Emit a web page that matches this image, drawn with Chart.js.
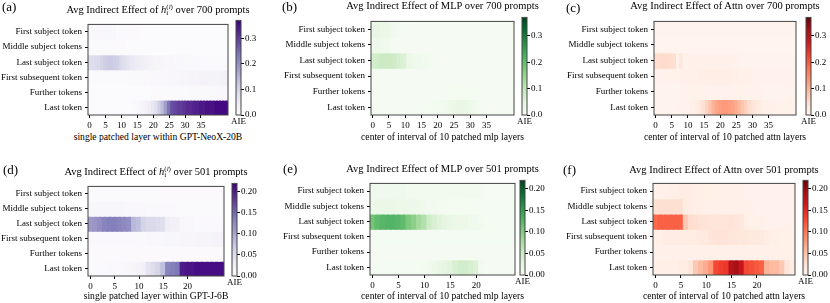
<!DOCTYPE html>
<html>
<head>
<meta charset="utf-8">
<script src="https://cdn.jsdelivr.net/npm/chart.js@4"></script>
<style>
  body { margin: 0; background: #fff; }
  #fig { position: relative; width: 830px; height: 303px; overflow: hidden; font-family: 'Liberation Serif', 'DejaVu Serif', serif; color: #000; }
  #fig canvas { position: absolute; }
  .title { position: absolute; width: 320px; text-align: center; font-size: 10.5px; line-height: 14px; white-space: nowrap; }
  .xtitle { position: absolute; width: 320px; text-align: center; font-size: 9.6px; line-height: 12px; white-space: nowrap; }
  .tag { position: absolute; font-size: 13px; line-height: 16px; }
  .aie { position: absolute; width: 30px; text-align: center; font-size: 9px; line-height: 10px; }
  .ss { display: inline-block; vertical-align: -2px; font-size: 7px; line-height: 6.5px; text-align: left; }
  .ss span { display: block; }
</style>
</head>
<body>
<div id="fig"></div>
<script>
// Données
const rowLabels = ['First subject token', 'Middle subject tokens', 'Last subject token', 'First subsequent token', 'Further tokens', 'Last token'];
const neoxTicks = [0, 5, 10, 15, 20, 25, 30, 35];
const gptjTicks = [0, 5, 10, 15, 20];
const neoxBarTicks = [0, 0.1, 0.2, 0.3];
const gptjBarTicks = [0, 0.05, 0.1, 0.15, 0.2];
const neoxMax = 0.37;
const gptjMax = 0.22;

// (a) GPT-NeoX-20B, estado oculto, 44 camadas
const neoxState = [
  [.016,.014,.012,.012,.012,.014,.014,.013,.012,.008, .007,.006,.006,.005,.005,.005,.004,.004,.004,.004, .004,.004,.004,.004,.004,.004,.003,.003,.003,.003, .003,.003,.003,.003,.003,.003,.003,.003,.003,.003, .003,.003,.003,.003],
  [.008,.008,.007,.007,.007,.007,.006,.006,.006,.005, .005,.005,.004,.004,.004,.004,.004,.004,.003,.003, .003,.003,.003,.003,.003,.003,.003,.003,.003,.003, .003,.003,.003,.003,.003,.003,.003,.003,.003,.003, .003,.003,.003,.003],
  [.085,.085,.088,.09,.10,.11,.115,.115,.11,.105, .09,.08,.07,.062,.055,.05,.045,.04,.035,.03, .027,.024,.022,.02,.018,.016,.015,.014,.013,.012, .011,.01,.01,.009,.009,.008,.008,.008,.008,.008, .008,.008,.008,.008],
  [.006,.006,.006,.006,.006,.007,.007,.007,.007,.007, .008,.008,.008,.009,.009,.01,.01,.01,.011,.011, .012,.012,.013,.013,.014,.015,.016,.017,.018,.019, .02,.021,.022,.023,.024,.025,.026,.027,.027,.028, .028,.028,.029,.029],
  [.004,.004,.004,.004,.004,.004,.004,.004,.004,.004, .004,.004,.004,.004,.004,.004,.004,.004,.004,.004, .005,.005,.005,.006,.006,.006,.007,.007,.007,.008, .008,.008,.009,.009,.01,.01,.01,.011,.011,.011, .012,.012,.012,.012],
  [.002,.002,.002,.002,.002,.002,.002,.002,.002,.002, .002,.003,.003,.004,.006,.009,.014,.022,.032,.045, .06,.08,.11,.14,.18,.24,.28,.29,.30,.30, .31,.32,.32,.33,.33,.34,.34,.35,.35,.35, .36,.36,.36,.36]
];

// (b) GPT-NeoX-20B, MLP
const neoxMlp = [
  [.03,.032,.032,.03,.03,.028,.018,.014,.012,.008, .007,.007,.006,.006,.006,.006,.006,.006,.005,.005, .005,.005,.005,.005,.005,.005,.005,.005,.005,.005, .005,.005,.005,.005,.005,.005,.005,.005,.005,.005, .005,.005,.005,.005],
  [.02,.022,.022,.02,.02,.018,.01,.008,.007,.006, .005,.005,.005,.005,.005,.005,.005,.005,.005,.005, .004,.004,.004,.004,.004,.004,.004,.004,.004,.004, .004,.004,.004,.004,.004,.004,.004,.004,.004,.004, .004,.004,.004,.004],
  [.07,.075,.08,.085,.085,.085,.085,.08,.07,.065, .06,.03,.025,.02,.02,.018,.016,.012,.01,.008, .007,.006,.006,.006,.006,.005,.005,.005,.005,.005, .005,.005,.005,.005,.005,.005,.005,.005,.005,.005, .005,.005,.005,.005],
  [.004,.004,.004,.004,.004,.004,.004,.004,.004,.004, .004,.004,.004,.004,.004,.004,.004,.004,.004,.004, .004,.004,.004,.004,.004,.004,.004,.004,.004,.004, .004,.004,.004,.004,.004,.004,.004,.004,.004,.004, .004,.004,.004,.004],
  [.006,.006,.006,.006,.006,.006,.006,.006,.006,.006, .006,.006,.006,.006,.006,.006,.006,.006,.006,.006, .006,.006,.006,.008,.008,.008,.008,.008,.008,.008, .008,.008,.008,.006,.006,.006,.006,.006,.006,.006, .006,.006,.006,.006],
  [.006,.006,.006,.006,.006,.006,.006,.006,.006,.006, .006,.006,.006,.006,.006,.007,.007,.008,.008,.009, .01,.012,.014,.02,.025,.028,.03,.032,.032,.03, .028,.022,.015,.01,.008,.007,.006,.006,.006,.006, .006,.006,.006,.006]
];

// (c) GPT-NeoX-20B, Attn
const neoxAttn = [
  [.004,.004,.004,.004,.004,.004,.004,.004,.004,.004, .004,.004,.004,.004,.004,.004,.004,.004,.004,.004, .004,.004,.004,.004,.004,.004,.004,.004,.004,.004, .004,.004,.004,.004,.004,.004,.004,.004,.004,.004, .004,.004,.004,.004],
  [.003,.003,.003,.003,.003,.003,.003,.003,.003,.003, .003,.003,.003,.003,.003,.003,.003,.003,.003,.003, .003,.003,.003,.003,.003,.003,.003,.003,.003,.003, .003,.003,.003,.003,.003,.003,.003,.003,.003,.003, .003,.003,.003,.003],
  [.05,.05,.052,.052,.05,.05,.048,.01,.03,.008, .008,.008,.009,.009,.01,.01,.01,.01,.01,.01, .01,.01,.01,.01,.01,.008,.006,.005,.005,.005, .004,.004,.004,.004,.004,.004,.004,.004,.004,.004, .004,.004,.004,.004],
  [.006,.006,.006,.006,.007,.007,.008,.008,.009,.009, .01,.01,.011,.012,.013,.014,.015,.015,.016,.016, .016,.016,.015,.015,.014,.013,.012,.011,.01,.009, .008,.008,.008,.008,.008,.008,.008,.008,.008,.008, .008,.008,.008,.008],
  [.005,.005,.005,.005,.005,.005,.005,.005,.006,.006, .006,.006,.007,.007,.007,.008,.008,.008,.008,.008, .008,.008,.008,.008,.008,.007,.007,.007,.006,.006, .006,.006,.006,.006,.005,.005,.005,.005,.005,.005, .005,.005,.005,.005],
  [.005,.005,.005,.005,.005,.005,.005,.006,.006,.007, .008,.01,.012,.018,.03,.045,.06,.08,.10,.115, .125,.13,.13,.125,.12,.11,.095,.08,.065,.05, .04,.03,.022,.016,.012,.01,.009,.008,.008,.007, .007,.007,.007,.007]
];

// (d) GPT-J-6B, estado oculto, 28 camadas
const gptjState = [
  [.004,.004,.004,.004,.004,.004,.004,.004,.004,.004, .004,.004,.004,.004,.004,.003,.003,.003,.003,.003, .003,.003,.003,.003,.003,.003,.003,.003],
  [.008,.009,.01,.01,.01,.01,.01,.009,.008,.008, .007,.007,.006,.006,.006,.005,.005,.005,.004,.004, .004,.004,.004,.004,.004,.004,.004,.004],
  [.11,.115,.12,.13,.135,.135,.13,.125,.12,.085, .08,.06,.055,.055,.05,.048,.026,.022,.02,.01, .008,.007,.006,.006,.005,.005,.005,.005],
  [.005,.005,.005,.005,.005,.005,.005,.005,.005,.005, .006,.006,.007,.007,.008,.008,.009,.01,.01,.011, .012,.012,.013,.013,.014,.014,.015,.015],
  [.003,.003,.003,.003,.003,.003,.003,.003,.003,.003, .003,.003,.003,.003,.003,.003,.003,.003,.003,.003, .003,.003,.003,.003,.003,.003,.003,.003],
  [.004,.004,.004,.004,.005,.005,.006,.007,.01,.012, .015,.02,.04,.05,.06,.08,.13,.135,.14,.2, .205,.205,.21,.21,.21,.21,.21,.21]
];

// (e) GPT-J-6B, MLP
const gptjMlp = [
  [.01,.01,.01,.012,.012,.012,.01,.008,.008,.008, .007,.007,.007,.007,.008,.008,.008,.007,.007,.007, .007,.006,.002,.002,.002,.002,.002,.002],
  [.016,.018,.018,.018,.018,.017,.016,.015,.014,.013, .01,.008,.007,.006,.006,.005,.005,.005,.005,.005, .004,.004,.004,.004,.004,.004,.004,.004],
  [.11,.12,.125,.128,.128,.125,.12,.105,.095,.08, .07,.048,.038,.032,.026,.02,.018,.016,.014,.012, .01,.008,.005,.004,.004,.004,.004,.004],
  [.004,.004,.004,.004,.004,.004,.004,.004,.004,.004, .004,.004,.004,.004,.004,.004,.004,.004,.004,.004, .004,.004,.004,.004,.004,.004,.004,.004],
  [.003,.003,.003,.003,.003,.003,.003,.003,.003,.003, .003,.003,.003,.003,.003,.003,.003,.003,.003,.003, .003,.003,.003,.003,.003,.003,.003,.003],
  [.004,.004,.004,.004,.004,.004,.004,.004,.005,.005, .006,.008,.015,.02,.025,.03,.04,.045,.045,.042, .035,.008,.004,.003,.003,.003,.003,.003]
];

// (f) GPT-J-6B, Attn
const gptjAttn = [
  [.006,.006,.006,.008,.008,.01,.01,.01,.008,.008, .007,.007,.006,.006,.006,.006,.006,.006,.005,.005, .005,.005,.005,.004,.004,.004,.004,.004],
  [.025,.027,.027,.027,.027,.027,.012,.01,.008,.008, .006,.006,.006,.006,.006,.006,.006,.006,.006,.006, .005,.005,.005,.005,.005,.005,.005,.005],
  [.11,.115,.115,.115,.115,.115,.045,.03,.028,.025, .022,.02,.02,.02,.02,.022,.02,.018,.008,.007, .006,.006,.005,.005,.005,.005,.005,.005],
  [.008,.008,.01,.01,.01,.01,.012,.012,.012,.014, .015,.02,.022,.022,.022,.02,.02,.018,.018,.016, .016,.014,.01,.008,.008,.006,.006,.006],
  [.006,.006,.006,.006,.006,.006,.006,.006,.006,.006, .006,.006,.006,.006,.006,.006,.006,.006,.006,.006, .006,.006,.006,.006,.006,.006,.006,.006],
  [.008,.008,.008,.008,.008,.01,.012,.02,.045,.055, .065,.08,.13,.135,.14,.18,.19,.17,.13,.125, .12,.115,.06,.055,.055,.045,.02,.012]
];

// Mapas de cores (matplotlib Purples / Greens / Reds)
const purples = ['#fcfbfd', '#efedf5', '#dadaeb', '#bcbddc', '#9e9ac8', '#807dba', '#6a51a3', '#54278f', '#3f007d'];
const greens = ['#f7fcf5', '#e5f5e0', '#c7e9c0', '#a1d99b', '#74c476', '#41ab5d', '#238b45', '#006d2c', '#00441b'];
const reds = ['#fff5f0', '#fee0d2', '#fcbba1', '#fc9272', '#fb6a4a', '#ef3b2c', '#cb181d', '#a50f15', '#67000d'];

function hexToRgb(h) {
  return [1, 3, 5].map(i => parseInt(h.slice(i, i + 2), 16));
}

function cmapColor(stops, t) {
  t = Math.max(0, Math.min(1, t));
  const pos = t * (stops.length - 1);
  const i = Math.min(Math.floor(pos), stops.length - 2);
  const f = pos - i;
  const a = hexToRgb(stops[i]);
  const b = hexToRgb(stops[i + 1]);
  const c = a.map((v, k) => Math.round(v + (b[k] - v) * f));
  return `rgb(${c[0]},${c[1]},${c[2]})`;
}

Chart.defaults.font.family = "'Liberation Serif', 'DejaVu Serif', serif";
Chart.defaults.font.size = 9;
Chart.defaults.color = '#000';
Chart.defaults.animation = false;
Chart.defaults.responsive = false;
Chart.defaults.events = [];
Chart.defaults.plugins.legend.display = false;
Chart.defaults.plugins.tooltip.enabled = false;

// Moldura em volta da área do gráfico
const frame = {
  id: 'frame',
  afterDraw(chart) {
    const { ctx, chartArea: a } = chart;
    ctx.save();
    ctx.strokeStyle = '#444';
    ctx.lineWidth = 1;
    ctx.strokeRect(a.left, a.top, a.right - a.left, a.bottom - a.top);
    ctx.restore();
  }
};

const fig = document.getElementById('fig');

function addCanvas(left, top, w, h) {
  const c = document.createElement('canvas');
  c.width = w;
  c.height = h;
  c.style.left = left + 'px';
  c.style.top = top + 'px';
  c.style.width = w + 'px';
  c.style.height = h + 'px';
  fig.appendChild(c);
  return c;
}

function addText(cls, html, left, top, width) {
  const d = document.createElement('div');
  d.className = cls;
  d.innerHTML = html;
  d.style.left = left + 'px';
  d.style.top = top + 'px';
  if (width) d.style.width = width + 'px';
  fig.appendChild(d);
}

// Mapa de calor: barras empilhadas, uma por célula
function heatmap(p) {
  const YW = 92, XH = 16;
  const c = addCanvas(p.L - YW, p.T - 2, YW + p.R - p.L + 3, p.B - p.T + 2 + XH);
  const n = p.rows[0].length;
  new Chart(c, {
    type: 'bar',
    data: {
      datasets: p.rows.map(row => ({
        data: row.map((v, i) => ({ x: i, y: 1, v })),
        backgroundColor: ctx => ctx.raw ? cmapColor(p.cmap, ctx.raw.v / p.vmax) : p.cmap[0],
        barPercentage: 1,
        categoryPercentage: 1,
        borderWidth: 0,
        inflateAmount: 0.6
      }))
    },
    options: {
      layout: { padding: { top: 2, right: 3, left: 0, bottom: 0 } },
      scales: {
        x: {
          type: 'linear',
          stacked: true,
          min: -0.5,
          max: n - 0.5,
          offset: false,
          afterBuildTicks: s => { s.ticks = p.xTicks.map(v => ({ value: v })); },
          ticks: { callback: v => String(v), padding: 2, maxRotation: 0, autoSkip: false },
          grid: { offset: false, drawOnChartArea: false, tickLength: 3, tickColor: '#000' },
          border: { display: false },
          afterFit: s => { s.height = XH; }
        },
        y: {
          type: 'linear',
          stacked: true,
          reverse: true,
          min: 0,
          max: 6,
          afterBuildTicks: s => { s.ticks = [0.5, 1.5, 2.5, 3.5, 4.5, 5.5].map(v => ({ value: v })); },
          ticks: { callback: (v, i) => rowLabels[i], padding: 3, autoSkip: false },
          grid: { offset: false, drawOnChartArea: false, tickLength: 3, tickColor: '#000' },
          border: { display: false },
          afterFit: s => { s.width = YW; }
        }
      }
    },
    plugins: [frame]
  });
  addText('xtitle', p.xTitle, (p.L + p.R) / 2 - 160, p.xTitleY - 6, 320);
}

// Barra de cores com gradiente
function colorbar(p) {
  const W = 5, RW = 30, BH = 8;
  const c = addCanvas(p.x - 2, p.top - 2, W + 2 + RW, p.bottom - p.top + 2 + BH);
  new Chart(c, {
    type: 'bar',
    data: {
      labels: [''],
      datasets: [{
        data: [[0, p.vmax]],
        backgroundColor: ctx => {
          const a = ctx.chart.chartArea;
          if (!a) return p.cmap[0];
          const g = ctx.chart.ctx.createLinearGradient(0, a.bottom, 0, a.top);
          p.cmap.forEach((s, i) => g.addColorStop(i / (p.cmap.length - 1), s));
          return g;
        },
        barPercentage: 1,
        categoryPercentage: 1,
        borderWidth: 0,
        inflateAmount: 0
      }]
    },
    options: {
      layout: { padding: { top: 2, left: 2, right: 0, bottom: 0 } },
      scales: {
        x: {
          ticks: { display: false },
          grid: { display: false },
          border: { display: false },
          afterFit: s => { s.height = BH; }
        },
        y: {
          position: 'right',
          min: 0,
          max: p.vmax,
          afterBuildTicks: s => { s.ticks = p.ticks.map(v => ({ value: v })); },
          ticks: { callback: v => v.toFixed(p.digits), padding: 1, autoSkip: false },
          grid: { drawOnChartArea: false, tickLength: 3, tickColor: '#000' },
          border: { display: false },
          afterFit: s => { s.width = RW; }
        }
      }
    },
    plugins: [frame]
  });
  addText('aie', 'AIE', p.x + W / 2 - 15, p.aieY - 5, 30);
}

const hState = '<i>h</i><span class="ss"><span>(<i>l</i>)</span><span>i</span></span>';

const panels = [
  { tag: '(a)', tagX: 2, tagY: 7, title: `Avg Indirect Effect of ${hState} over 700 prompts`, titleY: 10,
    rows: neoxState, cmap: purples, vmax: neoxMax, xTicks: neoxTicks, xTitle: 'single patched layer within GPT-NeoX-20B',
    L: 88, T: 18, R: 228, B: 115, xTitleY: 137,
    cb: { x: 236, top: 16, bottom: 115, aieY: 121, ticks: neoxBarTicks, digits: 1 } },
  { tag: '(b)', tagX: 282, tagY: 7, title: 'Avg Indirect Effect of MLP over 700 prompts', titleY: 6,
    rows: neoxMlp, cmap: greens, vmax: neoxMax, xTicks: neoxTicks, xTitle: 'center of interval of 10 patched mlp layers',
    L: 371, T: 15, R: 514, B: 115, xTitleY: 137,
    cb: { x: 522, top: 13, bottom: 115, aieY: 121, ticks: neoxBarTicks, digits: 1 } },
  { tag: '(c)', tagX: 566, tagY: 8, title: 'Avg Indirect Effect of Attn over 700 prompts', titleY: 6,
    rows: neoxAttn, cmap: reds, vmax: neoxMax, xTicks: neoxTicks, xTitle: 'center of interval of 10 patched attn layers',
    L: 654, T: 15, R: 796, B: 115, xTitleY: 137,
    cb: { x: 806, top: 13, bottom: 115, aieY: 121, ticks: neoxBarTicks, digits: 1 } },
  { tag: '(d)', tagX: 3, tagY: 170, title: `Avg Indirect Effect of ${hState} over 501 prompts`, titleY: 172,
    rows: gptjState, cmap: purples, vmax: gptjMax, xTicks: gptjTicks, xTitle: 'single patched layer within GPT-J-6B',
    L: 88, T: 180, R: 224, B: 276, xTitleY: 295.5,
    cb: { x: 232, top: 179, bottom: 276, aieY: 282, ticks: gptjBarTicks, digits: 2 } },
  { tag: '(e)', tagX: 283, tagY: 169, title: 'Avg Indirect Effect of MLP over 501 prompts', titleY: 169,
    rows: gptjMlp, cmap: greens, vmax: gptjMax, xTicks: gptjTicks, xTitle: 'center of interval of 10 patched mlp layers',
    L: 370, T: 177, R: 515, B: 275, xTitleY: 295.5,
    cb: { x: 520, top: 176, bottom: 275, aieY: 281, ticks: gptjBarTicks, digits: 2 } },
  { tag: '(f)', tagX: 563, tagY: 170, title: 'Avg Indirect Effect of Attn over 501 prompts', titleY: 169.5,
    rows: gptjAttn, cmap: reds, vmax: gptjMax, xTicks: gptjTicks, xTitle: 'center of interval of 10 patched attn layers',
    L: 653, T: 177, R: 795, B: 275, xTitleY: 295.5,
    cb: { x: 803, top: 176, bottom: 275, aieY: 281, ticks: gptjBarTicks, digits: 2 } }
];

panels.forEach(p => {
  heatmap(p);
  colorbar({ ...p.cb, cmap: p.cmap, vmax: p.vmax });
  addText('title', p.title, (p.L + p.R) / 2 - 160, p.titleY - 7, 320);
  addText('tag', p.tag, p.tagX, p.tagY - 8);
});
</script>
</body>
</html>
